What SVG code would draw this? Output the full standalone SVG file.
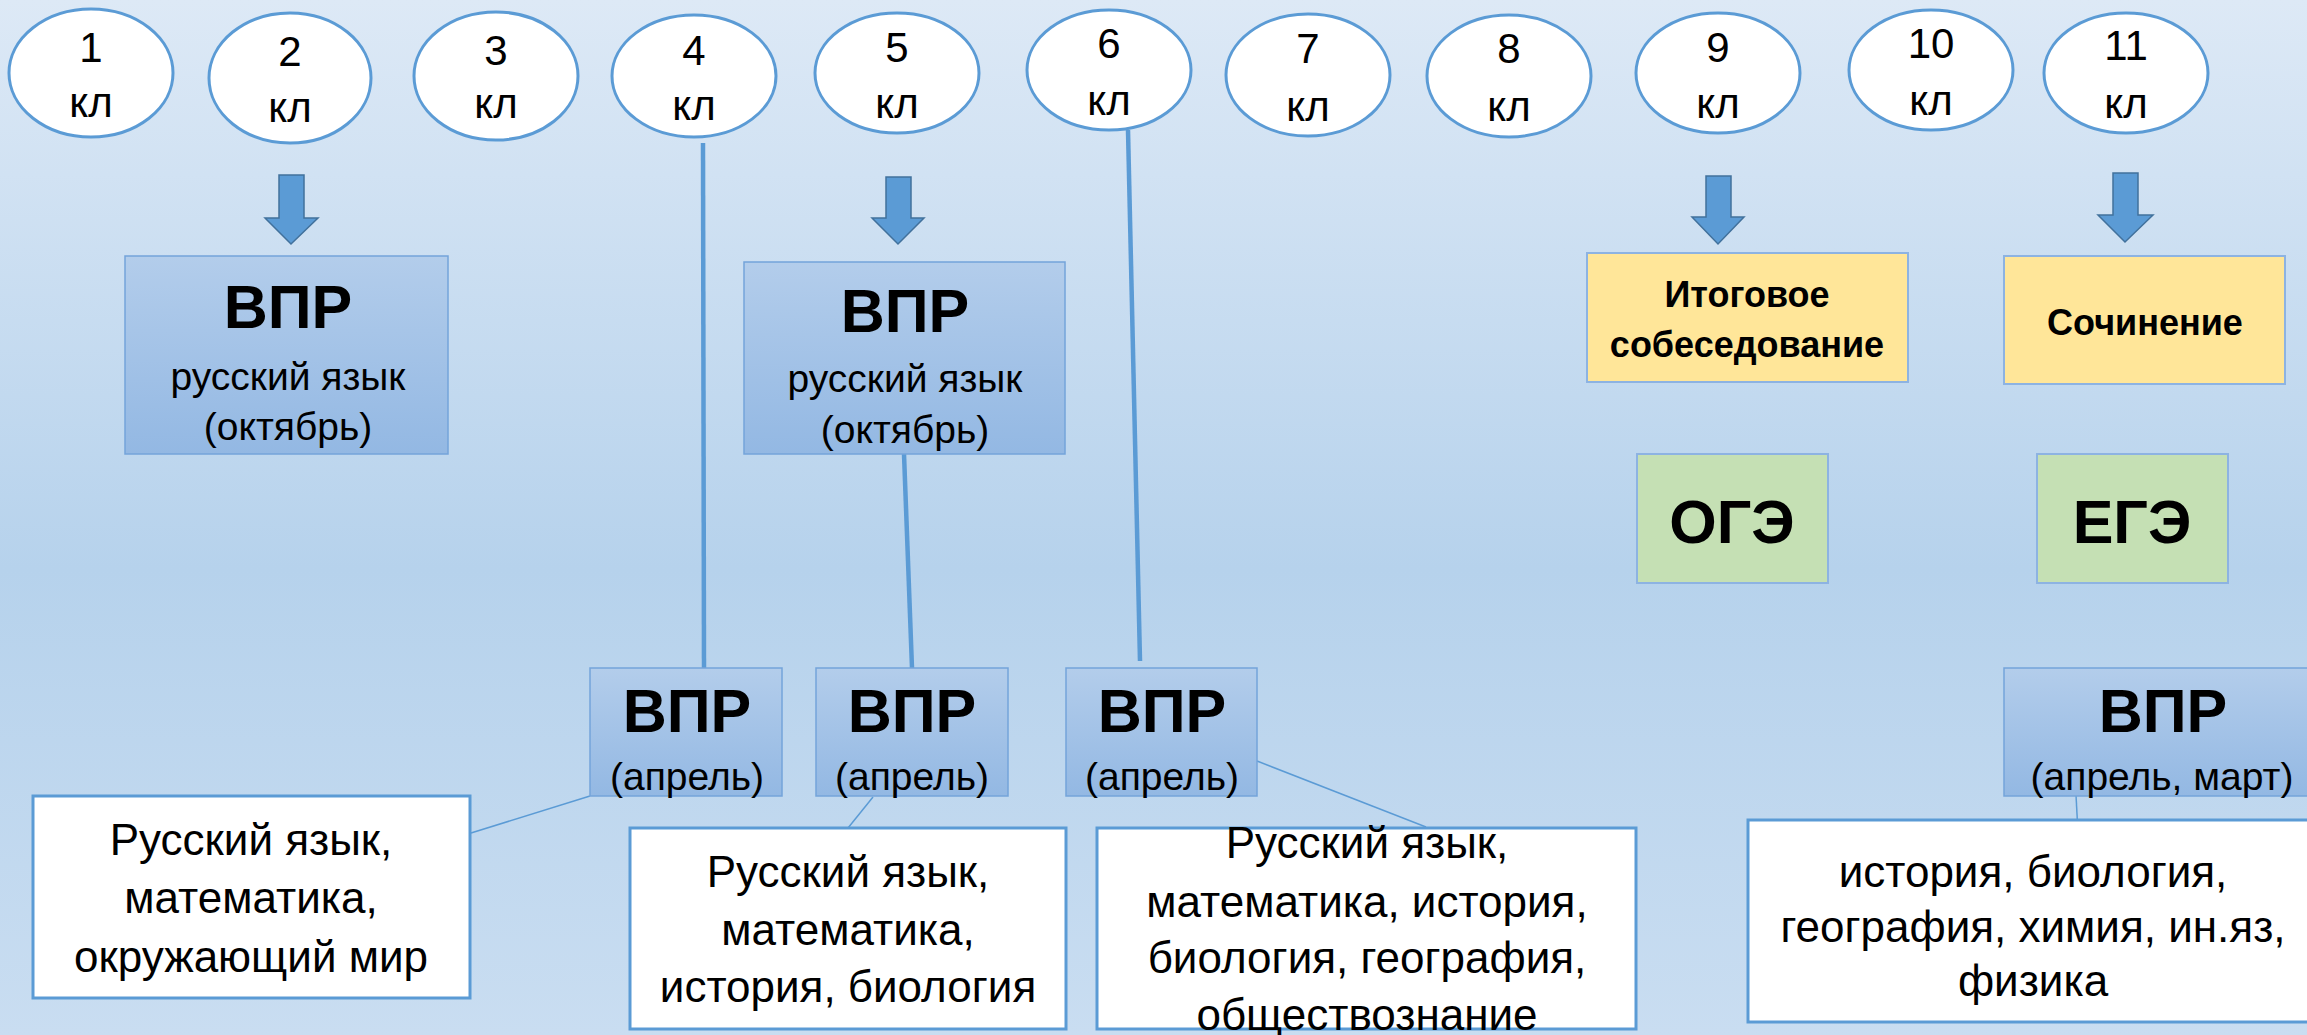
<svg xmlns="http://www.w3.org/2000/svg" width="2307" height="1035" viewBox="0 0 2307 1035">
<defs>
<linearGradient id="bg" x1="0" y1="0" x2="0" y2="1">
<stop offset="0" stop-color="#dde9f6"/>
<stop offset="0.55" stop-color="#b6d2ec"/>
<stop offset="1" stop-color="#c9ddf1"/>
</linearGradient>
<linearGradient id="vpr" x1="0" y1="0" x2="0" y2="1">
<stop offset="0" stop-color="#b3cdeb"/>
<stop offset="1" stop-color="#93b8e3"/>
</linearGradient>
<style>
.ell{fill:#ffffff;stroke:#5b9bd5;stroke-width:3}
.num{font-family:"Liberation Sans",Arial,sans-serif;font-size:42px;fill:#000;text-anchor:middle}
.vpr{fill:url(#vpr);stroke:#74a4da;stroke-width:1.5}
.big{font-family:"Liberation Sans",Arial,sans-serif;font-weight:bold;font-size:61px;fill:#000;text-anchor:middle}
.sub{font-family:"Liberation Sans",Arial,sans-serif;font-size:39px;fill:#000;text-anchor:middle}
.wbox{fill:#ffffff;stroke:#5b9bd5;stroke-width:3}
.txt{font-family:"Liberation Sans",Arial,sans-serif;font-size:44px;fill:#000;text-anchor:middle}
.yel{fill:#ffe699;stroke:#8db3e2;stroke-width:2}
.grn{fill:#c5e0b4;stroke:#8db3e2;stroke-width:2}
.ybold{font-family:"Liberation Sans",Arial,sans-serif;font-weight:bold;font-size:36px;fill:#000;text-anchor:middle}
.arrow{fill:#5b9bd5;stroke:#41719c;stroke-width:1.5}
.thick{stroke:#5b9bd5;stroke-width:4.5;fill:none}
.thin{stroke:#5b9bd5;stroke-width:1.5;fill:none}
</style>
</defs>
<rect x="0" y="0" width="2307" height="1035" fill="url(#bg)"/>

<g id="connectors">
<line class="thick" x1="703" y1="143" x2="704" y2="668"/>
<line class="thick" x1="904" y1="454" x2="912" y2="668"/>
<line class="thick" x1="1128" y1="130" x2="1140" y2="661"/>
<line class="thin" x1="590" y1="796" x2="471" y2="833"/>
<line class="thin" x1="873" y1="797" x2="848" y2="828"/>
<line class="thin" x1="1257" y1="761" x2="1426" y2="827"/>
<line class="thin" x1="2076" y1="795" x2="2078" y2="833"/>
<polygon class="arrow" points="279,175 304,175 304,218 318,218 291,244 265,218 279,218"/>
<polygon class="arrow" points="886,177 911,177 911,218 924,218 898,244 872,218 886,218"/>
<polygon class="arrow" points="1706,176 1731,176 1731,217 1744,217 1718,244 1692,217 1706,217"/>
<polygon class="arrow" points="2113,173 2138,173 2138,215 2153,215 2125,242 2098,215 2113,215"/>
</g>

<g id="grade1"><ellipse class="ell" cx="91" cy="73" rx="82" ry="64"/><text class="num" x="91" y="62">1</text><text class="num" x="91" y="117">кл</text></g>
<g id="grade2"><ellipse class="ell" cx="290" cy="78" rx="81" ry="65"/><text class="num" x="290" y="66">2</text><text class="num" x="290" y="122">кл</text></g>
<g id="grade3"><ellipse class="ell" cx="496" cy="76" rx="82" ry="64"/><text class="num" x="496" y="65">3</text><text class="num" x="496" y="118">кл</text></g>
<g id="grade4"><ellipse class="ell" cx="694" cy="76" rx="82" ry="61"/><text class="num" x="694" y="65">4</text><text class="num" x="694" y="120">кл</text></g>
<g id="grade5"><ellipse class="ell" cx="897" cy="73" rx="82" ry="60"/><text class="num" x="897" y="62">5</text><text class="num" x="897" y="118">кл</text></g>
<g id="grade6"><ellipse class="ell" cx="1109" cy="70" rx="82" ry="60"/><text class="num" x="1109" y="58">6</text><text class="num" x="1109" y="115">кл</text></g>
<g id="grade7"><ellipse class="ell" cx="1308" cy="75" rx="82" ry="61"/><text class="num" x="1308" y="63">7</text><text class="num" x="1308" y="121">кл</text></g>
<g id="grade8"><ellipse class="ell" cx="1509" cy="76" rx="82" ry="61"/><text class="num" x="1509" y="63">8</text><text class="num" x="1509" y="121">кл</text></g>
<g id="grade9"><ellipse class="ell" cx="1718" cy="73" rx="82" ry="60"/><text class="num" x="1718" y="62">9</text><text class="num" x="1718" y="118">кл</text></g>
<g id="grade10"><ellipse class="ell" cx="1931" cy="70" rx="82" ry="60"/><text class="num" x="1931" y="58">10</text><text class="num" x="1931" y="115">кл</text></g>
<g id="grade11"><ellipse class="ell" cx="2126" cy="73" rx="82" ry="60"/><text class="num" x="2126" y="60">11</text><text class="num" x="2126" y="118">кл</text></g>

<g id="vpr-oct-2"><rect class="vpr" x="125" y="256" width="323" height="198"/><text class="big" x="288" y="328">ВПР</text><text class="sub" x="288" y="390">русский язык</text><text class="sub" x="288" y="440">(октябрь)</text></g>
<g id="vpr-oct-5"><rect class="vpr" x="744" y="262" width="321" height="192"/><text class="big" x="905" y="332">ВПР</text><text class="sub" x="905" y="392">русский язык</text><text class="sub" x="905" y="443">(октябрь)</text></g>

<g id="interview"><rect class="yel" x="1587" y="253" width="321" height="129"/><text class="ybold" x="1747" y="307">Итоговое</text><text class="ybold" x="1747" y="357">собеседование</text></g>
<g id="essay"><rect class="yel" x="2004" y="256" width="281" height="128"/><text class="ybold" x="2145" y="335">Сочинение</text></g>
<g id="oge"><rect class="grn" x="1637" y="454" width="191" height="129"/><text class="big" x="1732" y="543">ОГЭ</text></g>
<g id="ege"><rect class="grn" x="2037" y="454" width="191" height="129"/><text class="big" x="2132" y="543">ЕГЭ</text></g>

<g id="vpr-apr-4"><rect class="vpr" x="590" y="668" width="192" height="128"/><text class="big" x="687" y="732">ВПР</text><text class="sub" x="687" y="790">(апрель)</text></g>
<g id="vpr-apr-5"><rect class="vpr" x="816" y="668" width="192" height="128"/><text class="big" x="912" y="732">ВПР</text><text class="sub" x="912" y="790">(апрель)</text></g>
<g id="vpr-apr-6"><rect class="vpr" x="1066" y="668" width="191" height="128"/><text class="big" x="1162" y="732">ВПР</text><text class="sub" x="1162" y="790">(апрель)</text></g>
<g id="vpr-apr-11"><rect class="vpr" x="2004" y="668" width="320" height="128"/><text class="big" x="2163" y="732">ВПР</text><text class="sub" x="2162" y="790">(апрель, март)</text></g>

<g id="subjects-4"><rect class="wbox" x="33" y="796" width="437" height="202"/><text class="txt" x="251" y="855">Русский язык,</text><text class="txt" x="251" y="913">математика,</text><text class="txt" x="251" y="972">окружающий мир</text></g>
<g id="subjects-5"><rect class="wbox" x="630" y="828" width="436" height="201"/><text class="txt" x="848" y="887">Русский язык,</text><text class="txt" x="848" y="945">математика,</text><text class="txt" x="848" y="1002">история, биология</text></g>
<g id="subjects-6"><rect class="wbox" x="1097" y="828" width="539" height="201"/><text class="txt" x="1367" y="858">Русский язык,</text><text class="txt" x="1367" y="917">математика, история,</text><text class="txt" x="1367" y="973">биология, география,</text><text class="txt" x="1367" y="1030">обществознание</text></g>
<g id="subjects-11"><rect class="wbox" x="1748" y="820" width="570" height="202"/><text class="txt" x="2033" y="887">история, биология,</text><text class="txt" x="2033" y="942">география, химия, ин.яз,</text><text class="txt" x="2033" y="996">физика</text></g>
</svg>
